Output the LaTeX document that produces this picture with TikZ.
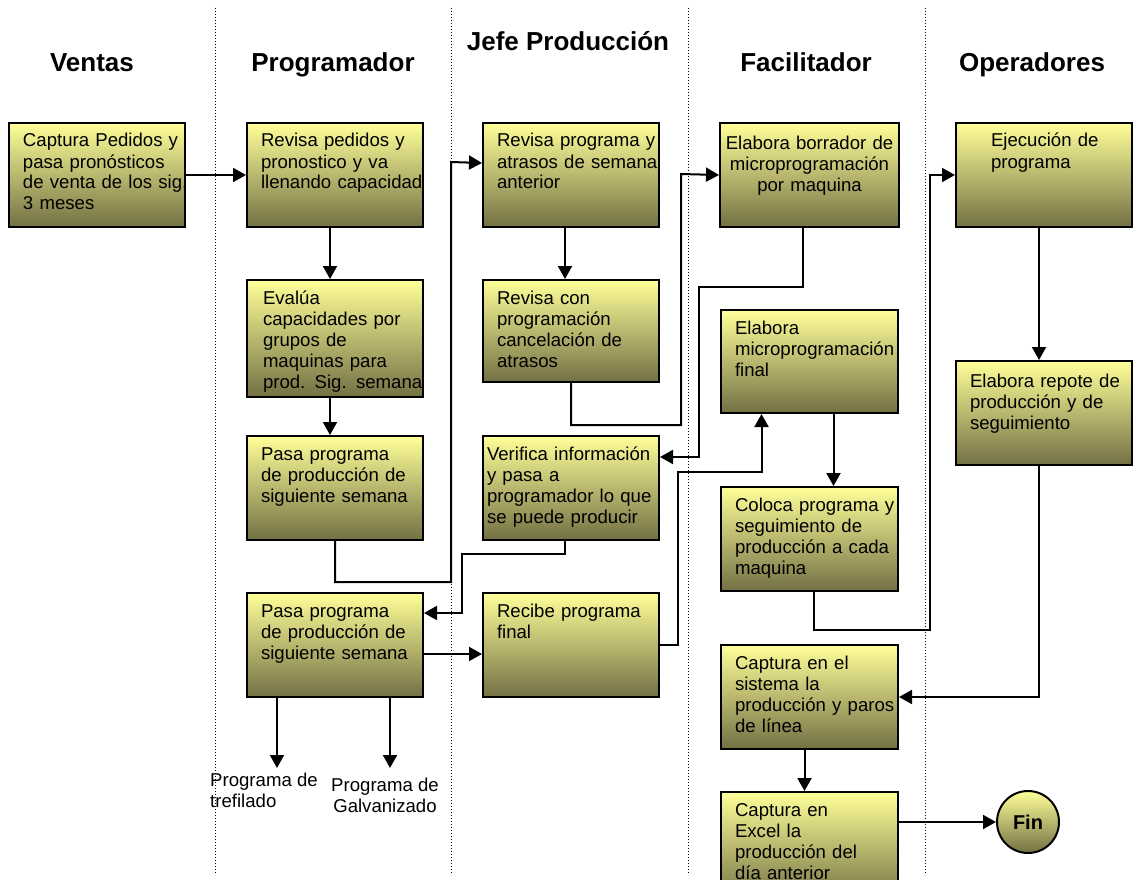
\documentclass[tikz,border=0pt]{standalone}
\usepackage{fontspec}
\setsansfont{Liberation Sans}
\usetikzlibrary{shapes.geometric, arrows.meta, positioning, calc}
\usepackage{xcolor}
\definecolor{boxTop}{RGB}{255,255,153}
\definecolor{boxMid}{RGB}{215,212,130}
\definecolor{boxBot}{RGB}{115,112,68}
\tikzset{
    font=\sffamily,
    >={Triangle[length=13pt, width=14pt]},
    % Shapes
    proc/.style={rectangle, draw=black, line width=2pt, anchor=north west,
                 top color=boxTop, middle color=boxMid, bottom color=boxBot,
                 font=\sffamily\fontsize{18.6}{21}\selectfont, align=left,
                 inner xsep=14pt, inner ysep=9.5pt, text width=148pt,
                 text height=14.5pt, text depth=70.5pt,
                 execute at begin node={\rightskip=-40pt plus 1fil\relax}},
    endnode/.style={circle, draw=black, line width=2pt, minimum size=62pt,
                 top color=boxTop, bottom color=boxBot, inner sep=0pt,
                 font=\sffamily\bfseries\fontsize{20}{24}\selectfont},
    % Lanes
    lane/.style={line width=1pt, dash pattern=on 1pt off 2pt},
    title/.style={anchor=base, inner sep=0pt, font=\sffamily\bfseries\fontsize{26}{30}\selectfont},
    % Flow & Labels
    flow/.style={->, line width=2pt, black},
    lbl/.style={inner sep=0pt, font=\sffamily\fontsize{18.6}{21}\selectfont}
}

\begin{document}
\begin{tikzpicture}[x=1pt, y=-1pt]
\path[use as bounding box, clip] (0,0) rectangle (1136,880);

% swim lanes
\foreach \x in {215,451,688,925}
  \draw[lane] (\x,8) -- (\x,875);

\node[title] (tVentas) at (92,72) {Ventas};
\node[title] (tProg) at (333,72) {Programador};
\node[title] (tJefe) at (568,51) {Jefe Producción};
\node[title] (tFac) at (806,72) {Facilitador};
\node[title] (tOper) at (1032,72) {Operadores};

% Ventas
\node[proc] (captura) at (8,122) {Captura Pedidos y\\pasa pronósticos\\de venta de los sig.\\3 meses};

% Programador
\node[proc] (revisa) at (246,122) {Revisa pedidos y\\pronostico y va\\llenando capacidad};
\node[proc, below=51pt of revisa, inner xsep=16pt, text width=144pt, text depth=83.5pt] (evalua)
  {Evalúa\\capacidades por\\grupos de\\maquinas para\\prod. Sig. semana};
\node[proc, below=37pt of evalua] (pasa) {Pasa programa\\de producción de\\siguiente semana};
\node[proc, below=51pt of pasa] (pasab) {Pasa programa\\de producción de\\siguiente semana};

% Jefe Produccion
\node[proc] (revprog) at (482,122) {Revisa programa y\\atrasos de semana\\anterior};
\node[proc, below=51pt of revprog, text depth=68.5pt] (revcon) {Revisa con\\programación\\cancelación de\\atrasos};
\node[proc, below=52pt of revcon, inner xsep=4pt, text width=168pt] (verif)
  {Verifica información\\y pasa a\\programador lo que\\se puede producir};
\node[proc, below=51pt of verif] (recibe) {Recibe programa\\final};

% Facilitador
\node[proc, align=center, inner xsep=4pt, text width=171pt, text height=17pt, text depth=68pt,
      execute at begin node={\leftskip=0pt plus 1fil\rightskip=0pt plus 1fil\relax}] (borrador) at (719,122)
  {Elabora borrador de\\microprogramación\\por maquina};
\node[proc, below=81pt of borrador, text width=149pt, text depth=69.5pt] (microfin) {Elabora\\microprogramación\\final};
\node[proc, below=72pt of microfin, text width=149pt] (coloca) {Coloca programa y\\seguimiento de\\producción a cada\\maquina};
\node[proc, below=52pt of coloca, text width=149pt] (capsis) {Captura en el\\sistema la\\producción y paros\\de línea};
\node[proc, below=41pt of capsis, text width=149pt, text depth=76.5pt] (capexcel) {Captura en\\Excel la\\producción del\\día anterior};

% Operadores
\node[proc, inner xsep=35pt, text width=106pt] (ejec) at (955,122) {Ejecución de\\programa};
\node[proc, below=132pt of ejec, text height=16.5pt, text depth=68.5pt] (repote) {Elabora repote de\\producción y de\\seguimiento};

\node[endnode] (fin) at (1028,822) {Fin};

\coordinate (tref) at (277,768);
\coordinate (galv) at (390,768);
\node[lbl, anchor=north west, align=left] (ltref) at (210,773) {Programa de\\trefilado};
\node[lbl, anchor=north, align=center] (lgalv) at (385,778) {Programa de\\Galvanizado};

\draw[flow] (captura) -- (revisa);
\draw[flow] ([xshift=-5pt]revisa.south) -- ([xshift=-5pt]evalua.north);
\draw[flow] ([xshift=-5pt]evalua.south) -- ([xshift=-5pt]pasa.north);
\draw[flow] (pasa.south) |- (451,582) -- (451,162) -- ([yshift=12pt]revprog.west);
\draw[flow] ([xshift=-6pt]revprog.south) -- ([xshift=-6pt]revcon.north);
\draw[flow] (revcon.south) |- (681,425) -- (681,174) -- (borrador.west);
\draw[flow] ([xshift=-7pt]borrador.south) |- (699,287) |- ([yshift=31pt]verif.east);
\draw[flow] ([xshift=-6pt]verif.south) |- (462,554) |- ([yshift=32pt]pasab.east);
\draw[flow] ([yshift=-9pt]pasab.east) -- ([yshift=-9pt]recibe.west);
\draw[flow] (recibe.east) -| (678,472) -| ([xshift=-48pt]microfin.south);
\draw[flow] ([xshift=24pt]microfin.south) -- ([xshift=24pt]coloca.north);
\draw[flow] ([xshift=4pt]coloca.south) |- (930,630) |- (ejec.west);
\draw[flow] ([xshift=-5pt]ejec.south) -- ([xshift=-5pt]repote.north);
\draw[flow] ([xshift=-5pt]repote.south) |- (capsis.east);
\draw[flow] ([xshift=-5pt]capsis.south) -- ([xshift=-5pt]capexcel.north);
\draw[flow] (capexcel.east |- fin.west) -- (fin.west);
\draw[flow] (pasab.south -| tref) -- (tref);
\draw[flow] (pasab.south -| galv) -- (galv);

\end{tikzpicture}
\end{document}
